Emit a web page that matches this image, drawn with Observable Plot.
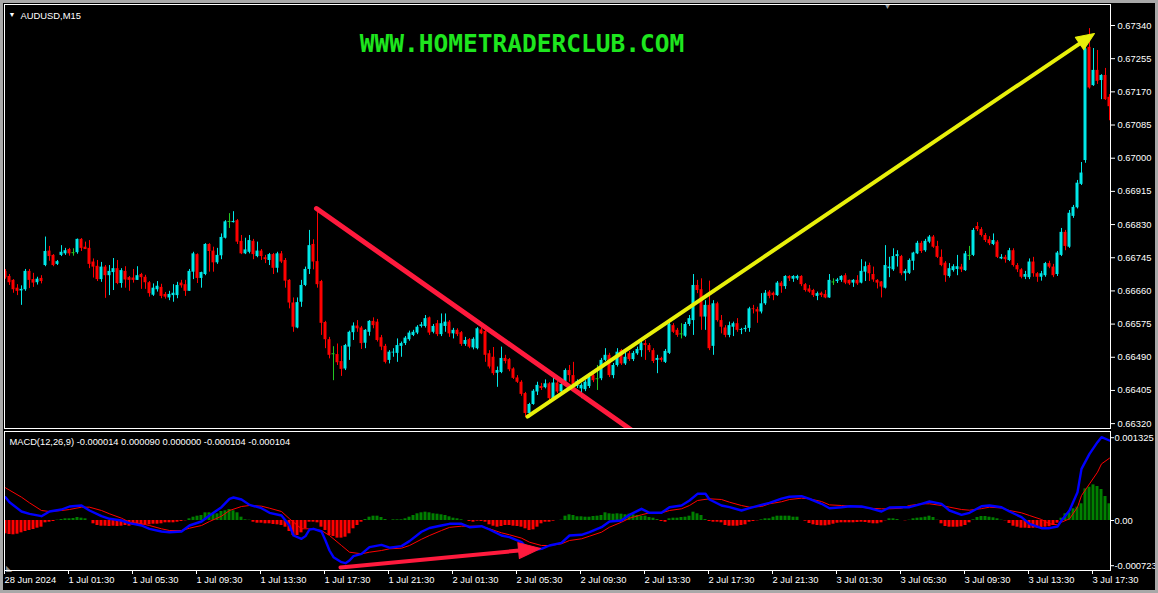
<!DOCTYPE html>
<html><head><meta charset="utf-8">
<script src="https://cdn.jsdelivr.net/npm/d3@7"></script>
<script src="https://cdn.jsdelivr.net/npm/@observablehq/plot@0.6"></script>
<style>
html,body{margin:0;padding:0;background:#000;}
#wrap{position:relative;width:1158px;height:593px;background:#000;overflow:hidden;}
#chrome{position:absolute;left:0;top:0;width:1152px;height:587px;border:3px solid #a8a8a8;pointer-events:none;}
#main{position:absolute;left:0;top:0;}
#macd{position:absolute;left:0;top:431px;}
svg{overflow:visible;}
</style></head>
<body><div id="wrap"><div id="main"></div><div id="macd"></div><div id="chrome"></div></div>
<script>
// ---- candle data: price points above 0.66000 (1 point = 0.00001)
const opens = [710,697,687,667,660,663,710,689,681,692,725,762,751,728,751,755,766,758,758,792,772,769,734,723,689,721,699,707,717,679,710,694,693,687,702,695,681,649,663,669,651,642,648,648,680,676,659,708,753,692,702,779,762,732,750,795,838,835,840,787,755,759,787,748,762,745,738,753,718,755,738,687,629,565,631,674,715,779,735,684,579,535,499,497,479,460,516,553,570,565,526,554,582,580,540,518,482,501,500,518,525,535,546,552,569,569,591,554,576,548,569,580,550,559,553,523,535,514,512,560,556,499,490,449,451,487,484,460,437,426,397,346,369,401,415,412,422,384,424,401,426,456,443,415,409,407,415,443,435,435,482,495,443,469,507,473,499,484,499,507,525,520,507,482,487,477,500,571,559,550,544,574,584,674,663,593,623,518,627,584,565,546,567,576,559,561,564,614,612,606,627,657,654,648,680,671,697,690,691,697,676,665,661,646,654,651,642,683,684,687,699,687,680,687,680,708,725,702,687,683,667,717,714,748,748,704,705,736,755,782,763,785,798,774,746,731,697,712,715,721,712,751,751,825,817,802,791,779,785,742,746,738,763,725,714,695,694,734,704,695,699,730,721,702,751,810,772,851,873,933,994,1284,1186,1225,1199,1212,1156];
const highs = [715,702,689,676,673,715,715,705,695,699,798,774,753,738,776,769,769,768,793,794,785,789,742,738,733,725,725,743,738,717,722,697,715,722,705,700,684,678,684,677,656,659,676,682,687,687,715,759,755,708,781,781,772,769,806,840,858,863,843,802,795,802,792,785,766,751,756,756,759,761,743,689,642,642,687,721,815,791,870,687,582,541,517,524,518,523,557,578,584,569,561,584,591,587,546,523,507,512,537,529,543,557,559,571,579,597,593,574,584,601,601,584,564,563,556,541,538,540,566,565,559,507,515,465,516,495,487,463,443,430,400,372,407,426,423,432,425,439,428,424,460,469,477,432,422,430,443,449,469,487,512,500,474,512,510,507,505,505,516,533,533,525,512,495,490,510,579,576,564,576,579,597,702,687,691,635,685,635,631,597,571,580,580,589,564,571,618,623,618,653,661,661,657,684,684,699,699,699,700,699,679,674,664,657,657,661,702,691,692,699,704,688,689,699,740,734,731,721,689,684,776,746,768,763,751,715,742,759,787,787,792,802,802,787,765,735,730,727,751,728,761,774,820,835,822,807,799,806,789,753,751,769,768,730,717,710,742,746,707,710,733,736,728,761,820,815,866,879,943,989,1289,1332,1281,1276,1214,1230,1163];
const lows = [690,674,654,648,623,659,666,669,675,678,722,736,722,725,748,751,749,749,754,761,766,717,693,684,682,641,648,661,676,667,667,659,680,687,664,664,644,646,657,640,639,635,631,640,667,646,659,689,679,667,699,708,708,728,740,793,820,834,779,753,753,755,740,745,738,730,725,702,706,730,667,614,554,563,618,671,702,714,667,546,512,486,430,469,441,456,482,533,554,510,512,544,563,529,507,473,473,490,477,490,520,531,543,548,565,565,546,550,543,543,554,541,537,543,518,518,512,509,509,548,477,460,443,413,448,473,453,433,423,390,336,335,367,392,405,409,379,379,397,396,418,426,413,410,384,402,410,425,405,430,479,438,435,465,469,469,479,479,495,490,482,502,474,448,477,474,497,551,541,537,541,569,546,653,559,559,507,495,580,550,540,540,543,554,548,554,554,601,577,601,623,640,635,646,654,664,684,682,687,671,657,654,643,635,643,640,641,674,679,682,676,674,669,674,678,684,684,682,665,642,665,694,710,721,699,685,702,712,753,756,759,781,769,743,722,682,693,708,699,707,710,738,748,812,798,784,776,776,743,740,731,735,721,707,691,689,689,695,682,685,695,717,694,697,748,763,769,846,870,930,987,1177,1184,1189,1150,1148,1096];
const closes = [694,681,663,659,664,710,687,680,690,684,761,748,725,735,759,763,755,758,792,769,766,728,721,689,721,699,710,717,679,712,688,687,687,699,694,681,653,667,672,646,644,651,654,674,673,659,710,755,692,707,779,761,732,751,797,837,838,838,785,755,765,789,753,762,748,740,753,718,755,734,685,629,567,630,674,715,776,734,676,577,535,495,499,476,459,520,554,570,563,525,559,582,571,533,516,477,503,503,520,525,539,552,554,567,573,589,552,569,548,576,580,550,559,548,523,533,516,536,563,550,495,465,448,456,487,479,458,436,426,395,346,369,403,418,410,422,384,424,401,420,456,443,420,428,418,426,439,430,435,482,495,443,469,503,473,490,484,500,510,525,520,507,479,487,482,505,574,554,546,550,574,589,674,661,593,623,512,627,584,567,546,571,576,559,561,564,614,612,606,627,654,646,648,680,671,697,691,697,697,676,661,657,648,653,648,642,687,683,688,697,680,678,687,678,710,722,704,688,680,670,725,721,748,753,704,710,738,757,782,761,787,798,772,746,725,699,717,722,722,714,755,751,815,817,802,789,781,789,746,746,740,763,725,714,695,702,734,704,695,704,730,721,699,757,810,774,859,874,936,962,1280,1180,1225,1197,1212,1150,1132];
const priceBase = 0.66;

// ---- MACD(12,26,9) data, in millionths (1e-6)
const histogram = [-213,-224,-229,-219,-197,-176,-160,-144,-123,-107,-37,-27,-16,5,16,27,27,32,48,37,27,0,-53,-80,-91,-91,-96,-91,-96,-91,-80,-91,-80,-80,-80,-69,-69,-59,-59,-53,-37,-37,-37,-27,-16,-5,27,53,69,80,123,123,107,107,144,155,176,155,123,53,11,5,-27,-43,-43,-53,-53,-64,-69,-80,-107,-176,-240,-240,-197,-133,-27,-27,-37,-107,-160,-240,-256,-282,-282,-267,-213,-133,-80,-27,16,53,69,69,48,16,0,11,11,
11,27,53,80,107,123,133,123,107,101,91,80,59,37,27,11,0,-16,-27,-11,-16,-27,-69,-91,-107,-96,-80,-80,-91,-96,-107,-133,-160,-149,-107,-53,-27,-27,-11,0,5,69,91,80,59,59,53,53,64,69,80,123,107,101,107,101,91,101,91,80,69,69,48,37,16,-16,-27,27,37,37,48,53,69,133,107,80,16,-16,-27,-27,-37,-80,-91,-91,-91,-80,-69,-27,-16,-5,11,27,27,53,69,69,69,69,
53,53,0,-11,-48,-69,-80,-85,-85,-75,-59,-43,-37,-37,-37,-37,-32,-27,-32,-43,-53,-53,-37,-5,27,27,16,0,-5,5,27,37,43,53,69,48,5,-53,-96,-107,-107,-107,-101,-80,-37,11,48,64,64,53,43,27,5,-5,-48,-91,-107,-123,-123,-128,-123,-123,-117,-107,-101,-80,-43,37,107,123,187,213,267,506,533,570,544,496,384,267];
const macdBars = [0,1,4,6,9,11,14,16,19,21,24,26,29,31,34,36,39,41,44,46,49,51,54,56,57,59,61,64,66,69,71,72,74,75,76,77,79,80,81,82,84,85,86,87,89,91,94,96,99,101,104,106,109,111,114,116,119,121,124,126,129,131,134,136,139,141,144,146,149,151,154,156,159,161,164,166,169,171,173,175,176,179,181,184,186,189,191,194,196,199,201,204,206,209,211,214,216,219,221,224,226,229,231,234,236,239,241,244,246,249,251,254,256,259,261,263,264,266,268,269,271,273,274,276];
const macdMain = [373,293,144,107,69,144,176,224,240,160,69,27,0,-43,-80,-133,-176,-187,-176,-80,-16,80,213,347,368,336,250,197,123,80,-80,-240,-293,-250,-144,-133,-176,-320,-480,-587,-667,-683,-640,-570,-533,-427,-390,-435,-410,-330,-180,-120,-80,-53,-53,-107,-91,-144,-240,-267,-347,-480,-453,-400,-357,-240,-229,-187,-107,-16,0,91,187,123,123,213,240,320,427,427,336,240,213,160,197,250,283,350,380,389,347,267,197,213,229,224,197,144,208,213,213,267,304,267,160,91,123,229,240,213,144,53,-53,-123,-123,-96,0,160,453,826,1066,1253,1333,1280];
const signalBars = [0,4,6,9,11,14,16,19,21,24,26,29,31,34,36,39,41,44,46,49,51,54,56,59,61,64,66,69,71,74,76,79,81,84,86,89,91,94,96,99,101,104,106,109,111,114,116,119,121,124,126,129,131,134,136,139,141,144,146,149,151,154,156,159,161,164,166,169,171,173,176,179,181,184,186,189,191,194,196,199,201,204,206,209,211,214,216,219,221,224,226,229,231,234,236,239,241,244,246,249,251,254,256,259,261,263,264,266,268,269,271,273,274,276];
const signalLine = [523,373,283,160,144,160,176,213,213,160,107,37,-27,-53,-80,-133,-160,-160,-123,-80,-16,69,160,224,240,229,197,144,27,-133,-133,-160,-240,-400,-507,-533,-507,-480,-453,-443,-400,-300,-240,-160,-110,-91,-91,-91,-133,-197,-229,-282,-347,-400,-400,-373,-320,-293,-251,-187,-107,-27,37,91,123,123,160,187,240,320,347,336,293,240,213,224,267,300,336,357,347,304,250,240,229,213,197,187,187,197,240,267,267,240,213,176,165,190,213,200,160,123,80,16,-53,-69,-27,27,213,400,586,773,906,997];

// ---- axes text
const priceTickLabels = ["0.67340","0.67255","0.67170","0.67085","0.67000","0.66915","0.66830","0.66745","0.66660","0.66575","0.66490","0.66405","0.66320"];
const macdTickLabels = ["0.001325","0.00","-0.000723"];
const macdTickValues = [0.001325, 0, -0.000723];
const timeTickBars = [0,16,32,48,64,80,96,112,128,144,160,176,192,208,224,240,256,272];
const timeLabels = ["28 Jun 2024","1 Jul 01:30","1 Jul 05:30","1 Jul 09:30","1 Jul 13:30","1 Jul 17:30","1 Jul 21:30","2 Jul 01:30","2 Jul 05:30","2 Jul 09:30","2 Jul 13:30","2 Jul 17:30","2 Jul 21:30","3 Jul 01:30","3 Jul 05:30","3 Jul 09:30","3 Jul 13:30","3 Jul 17:30"];
const symbolLabel = "AUDUSD,M15";
const macdLabel = "MACD(12,26,9) -0.000014 0.000090 0.000000 -0.000104 -0.000104";
const siteLabel = "WWW.HOMETRADERCLUB.COM";

// ---- drawn objects (in bar / price units)
const downTrendBars = [77.75, 160];
const downTrendPrices = [0.66871, 0.66278];
const upArrowBars = [130.5, 272.25];
const upArrowPrices = [0.66338, 0.673195];
const macdArrowBars = [83.75, 133.75];
const macdArrowValues = [-0.000752, -0.000448];
const siteAnchor = {bar: 129.1, price: 0.672913};
const shiftMarkerBar = 220.5;

const CYAN = "#00e8e8", RED = "#ff0000", DOJI = "#22c722", HGREEN = "#008000";
const TREND_RED = "#ff1a3d", YELLOW = "#e8f00a";
const FONT = "Liberation Sans, Arial, sans-serif";

const candles = closes.map((c, i) => ({
  i, o: priceBase + opens[i] / 1e5, h: priceBase + highs[i] / 1e5,
  l: priceBase + lows[i] / 1e5, c: priceBase + c / 1e5
}));
const colorOf = d => d.c > d.o ? CYAN : d.c < d.o ? RED : DOJI;
const priceTicks = priceTickLabels.map(Number);
const xDomain = [-0.25, 276.25];
const mainDomain = [0.663075, 0.673938];
const macdDomain = [-0.0008, 0.001424];

// pixel scales (same as the plots below) to orient the arrow heads
const xs = Plot.scale({x: {domain: xDomain, range: [4, 1110]}});
const ysMain = Plot.scale({y: {domain: mainDomain, range: [428, 4]}});
const ysMacd = Plot.scale({y: {domain: macdDomain, range: [139, 0]}});
function arrowParts(b, v, ys, headLen) {
  const x1 = xs.apply(b[0]), x2 = xs.apply(b[1]), y1 = ys.apply(v[0]), y2 = ys.apply(v[1]);
  const len = Math.hypot(x2 - x1, y2 - y1);
  const t = 1 - (headLen * 0.6) / len;
  const rotate = Math.atan2(x2 - x1, -(y2 - y1)) * 180 / Math.PI;
  return {
    shaft: [{b: b[0], v: v[0]}, {b: b[0] + (b[1] - b[0]) * t, v: v[0] + (v[1] - v[0]) * t}],
    head: [{b: b[1], v: v[1], rotate}]
  };
}
const headShape = {draw(ctx, l, r) { ctx.moveTo(-r, 0); ctx.lineTo(0, -l); ctx.lineTo(r, 0); ctx.closePath(); }};
const upArrow = arrowParts(upArrowBars, upArrowPrices, ysMain, 18);
const macdArrow = arrowParts(macdArrowBars, macdArrowValues, ysMacd, 22);

const mainPlot = Plot.plot({
  width: 1158, height: 430, marginLeft: 4, marginRight: 48, marginTop: 4, marginBottom: 2,
  style: {background: "transparent", color: "#fff", fontFamily: FONT, fontSize: "9.4px"},
  x: {domain: xDomain, axis: null, label: null},
  y: {domain: mainDomain, axis: null, label: null},
  color: {type: "identity"},
  marks: [
    Plot.ruleX(candles, {x: "i", y1: "l", y2: "h", stroke: colorOf, clip: true}),
    Plot.rect(candles.filter(d => d.o !== d.c), {x1: d => d.i - 0.375, x2: d => d.i + 0.375, y1: "o", y2: "c", fill: colorOf, clip: true}),
    Plot.ruleY(candles.filter(d => d.o === d.c), {y: "c", x1: d => d.i - 0.375, x2: d => d.i + 0.375, stroke: DOJI}),
    Plot.line(downTrendBars.map((b, k) => ({b, p: downTrendPrices[k]})), {x: "b", y: "p", stroke: TREND_RED, strokeWidth: 5, strokeLinecap: "round", clip: true}),
    Plot.line(upArrow.shaft, {x: "b", y: "v", stroke: YELLOW, strokeWidth: 4, clip: true}),
    Plot.vector(upArrow.head, {x: "b", y: "v", rotate: "rotate", length: 18, r: 7.5, anchor: "end", shape: headShape, fill: YELLOW, stroke: YELLOW, strokeWidth: 1}),
    Plot.text([siteLabel], {x: () => siteAnchor.bar, y: () => siteAnchor.price, text: d => d, fill: "#1ee61e",
      fontFamily: "DejaVu Sans Mono, monospace", fontWeight: "bold", fontSize: 24.5, textAnchor: "middle", lineAnchor: "middle"}),
    Plot.text(["▼"], {frameAnchor: "top-left", dx: 4, dy: 8, text: d => d, fill: "#fff", fontSize: 7, textAnchor: "start"}),
    Plot.text([symbolLabel], {frameAnchor: "top-left", dx: 16, dy: 8, text: d => d, fill: "#fff", textAnchor: "start"}),
    Plot.text(["▼"], {x: () => shiftMarkerBar, frameAnchor: "top", lineAnchor: "top", dy: -1, text: d => d, fill: "#9a9a9a", fontSize: 8}),
    Plot.frame({stroke: "#fff"}),
    Plot.axisY({anchor: "right", label: null, ticks: priceTicks, tickFormat: d => d.toFixed(5), tickSize: 4, tickPadding: 3, stroke: "#fff", fill: "#fff"})
  ]
});
document.getElementById("main").append(mainPlot);

const histData = histogram.map((v, i) => ({i, v: v * 1e-6}));
const macdPlot = Plot.plot({
  width: 1158, height: 162, marginLeft: 4, marginRight: 48, marginTop: 0, marginBottom: 23,
  style: {background: "transparent", color: "#fff", fontFamily: FONT, fontSize: "9.4px"},
  x: {domain: xDomain, axis: null, label: null},
  y: {domain: macdDomain, axis: null, label: null},
  color: {type: "identity"},
  marks: [
    Plot.rect(histData, {x1: d => d.i - 0.375, x2: d => d.i + 0.375, y1: () => 0, y2: "v", fill: d => d.v >= 0 ? HGREEN : RED, clip: true}),
    Plot.line(signalBars.map((b, k) => ({b, v: signalLine[k] * 1e-6})), {x: "b", y: "v", stroke: "#ff0000", strokeWidth: 1, clip: true}),
    Plot.line(macdBars.map((b, k) => ({b, v: macdMain[k] * 1e-6})), {x: "b", y: "v", stroke: "#0000ff", strokeWidth: 2.4, clip: true}),
    Plot.line(macdArrow.shaft, {x: "b", y: "v", stroke: TREND_RED, strokeWidth: 4, clip: true}),
    Plot.vector(macdArrow.head, {x: "b", y: "v", rotate: "rotate", length: 22, r: 8, anchor: "end", shape: headShape, fill: TREND_RED, stroke: TREND_RED, strokeWidth: 1}),
    Plot.text([macdLabel], {frameAnchor: "top-left", dx: 5, dy: 7, text: d => d, fill: "#fff", fontSize: 9.3, textAnchor: "start"}),
    Plot.text(["◣"], {frameAnchor: "bottom-left", lineAnchor: "bottom", dx: 1, dy: 0, text: d => d, fill: "#8a8a8a", fontSize: 8, textAnchor: "start"}),
    Plot.frame({stroke: "#fff"}),
    Plot.axisY({anchor: "right", label: null, ticks: macdTickValues, tickFormat: d => macdTickLabels[macdTickValues.indexOf(d)], tickSize: 3, tickPadding: 1, stroke: "#fff", fill: "#fff"}),
    Plot.axisX({anchor: "bottom", label: null, ticks: timeTickBars, tickFormat: d => timeLabels[timeTickBars.indexOf(d)], tickSize: 4, tickPadding: 2, textAnchor: "start", dx: -1, stroke: "#fff", fill: "#fff"})
  ]
});
document.getElementById("macd").append(macdPlot);
</script>
</body></html>
